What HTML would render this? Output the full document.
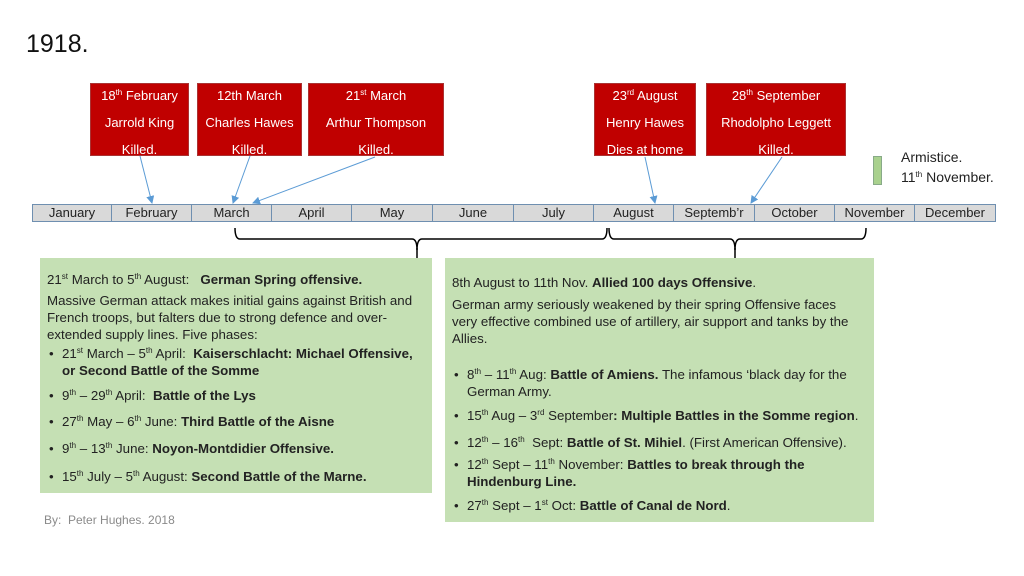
<!DOCTYPE html>
<html><head><meta charset="utf-8"><style>
*{margin:0;padding:0;box-sizing:border-box}
body{width:1024px;height:576px;background:#fff;position:relative;overflow:hidden;font-family:"Liberation Sans",sans-serif;color:#222}
.a{position:absolute;white-space:nowrap}
.red{position:absolute;background:#c00000;border:1px solid #a33;color:#fff;font-size:13px;text-align:center}
.red div{position:absolute;left:0;right:0}
.m{position:absolute;top:204px;height:18px;border:1px solid #6f8fb0;border-left:none;background:#d9d9d9;font-size:13px;text-align:center;line-height:16px;color:#222}
.g{position:absolute;background:#c5e0b4}
.t{position:absolute;font-size:13.3px;white-space:nowrap;color:#222}
sup{font-size:8px;vertical-align:5px;line-height:0}
</style></head><body>
<div class="a" style="left:26px;top:30px;font-size:25px;color:#111">1918.</div>

<div class="red" style="left:90px;top:83px;width:99px;height:73px"><div style="top:4px">18<sup>th</sup> February</div><div style="top:31px">Jarrold King</div><div style="top:58px">Killed.</div></div>
<div class="red" style="left:197px;top:83px;width:105px;height:73px"><div style="top:4px">12th March</div><div style="top:31px">Charles Hawes</div><div style="top:58px">Killed.</div></div>
<div class="red" style="left:308px;top:83px;width:136px;height:73px"><div style="top:4px">21<sup>st</sup> March</div><div style="top:31px">Arthur Thompson</div><div style="top:58px">Killed.</div></div>
<div class="red" style="left:594px;top:83px;width:102px;height:73px"><div style="top:4px">23<sup>rd</sup> August</div><div style="top:31px">Henry Hawes</div><div style="top:58px">Dies at home</div></div>
<div class="red" style="left:706px;top:83px;width:140px;height:73px"><div style="top:4px">28<sup>th</sup> September</div><div style="top:31px">Rhodolpho Leggett</div><div style="top:58px">Killed.</div></div>

<div style="position:absolute;left:873px;top:156px;width:9px;height:29px;background:#a9d18e;border:1px solid #8a8"></div>
<div class="a" style="left:901px;top:149px;font-size:14px">Armistice.</div>
<div class="a" style="left:901px;top:169px;font-size:14px">11<sup>th</sup> November.</div>

<div class="m" style="left:32px;width:80px;border-left:1px solid #6f8fb0">January</div>
<div class="m" style="left:112px;width:80px">February</div>
<div class="m" style="left:192px;width:80px">March</div>
<div class="m" style="left:272px;width:80px">April</div>
<div class="m" style="left:352px;width:81px">May</div>
<div class="m" style="left:433px;width:81px">June</div>
<div class="m" style="left:514px;width:80px">July</div>
<div class="m" style="left:594px;width:80px">August</div>
<div class="m" style="left:674px;width:81px">Septemb’r</div>
<div class="m" style="left:755px;width:80px">October</div>
<div class="m" style="left:835px;width:80px">November</div>
<div class="m" style="left:915px;width:81px">December</div>

<svg style="position:absolute;left:0;top:0" width="1024" height="576">
<defs><marker id="ar" markerWidth="8" markerHeight="8" refX="7" refY="4" orient="auto" markerUnits="userSpaceOnUse"><path d="M0,0 L8,4 L0,8 z" fill="#5b9bd5"/></marker></defs>
<g stroke="#5b9bd5" stroke-width="1" marker-end="url(#ar)">
<line x1="140" y1="156" x2="152" y2="203"/>
<line x1="250" y1="156" x2="233" y2="203"/>
<line x1="375" y1="157" x2="253" y2="203"/>
<line x1="645" y1="157" x2="655" y2="203"/>
<line x1="782" y1="157" x2="751" y2="203"/>
</g>
<g stroke="#000" stroke-width="1.5" fill="none">
<path d="M235,228 Q235,239 240,239 L412,239 Q417,239 417,250 Q417,239 422,239 L602,239 Q607,239 607,228"/>
<line x1="417" y1="248" x2="417" y2="258"/>
<path d="M609,228 Q609,239 614,239 L730,239 Q735,239 735,250 Q735,239 740,239 L861,239 Q866,239 866,228"/>
<line x1="735" y1="248" x2="735" y2="258"/>
</g>
</svg>

<div class="g" style="left:40px;top:258px;width:392px;height:235px"></div>
<div class="g" style="left:445px;top:258px;width:429px;height:264px"></div>

<div class="t" style="left:47px;top:272px">21<sup>st</sup> March to 5<sup>th</sup> August: &nbsp; <b>German Spring offensive.</b></div>
<div class="t" style="left:47px;top:293px">Massive German attack makes initial gains against British and</div>
<div class="t" style="left:47px;top:310px">French troops, but falters due to strong defence and over-</div>
<div class="t" style="left:47px;top:327px">extended supply lines. Five phases:</div>
<div class="t" style="left:49px;top:346px">•</div><div class="t" style="left:62px;top:346px">21<sup>st</sup> March – 5<sup>th</sup> April: &nbsp;<b>Kaiserschlacht: Michael Offensive,</b></div>
<div class="t" style="left:62px;top:363px"><b>or Second Battle of the Somme</b></div>
<div class="t" style="left:49px;top:388px">•</div><div class="t" style="left:62px;top:388px">9<sup>th</sup> – 29<sup>th</sup> April: &nbsp;<b>Battle of the Lys</b></div>
<div class="t" style="left:49px;top:414px">•</div><div class="t" style="left:62px;top:414px">27<sup>th</sup> May – 6<sup>th</sup> June: <b>Third Battle of the Aisne</b></div>
<div class="t" style="left:49px;top:441px">•</div><div class="t" style="left:62px;top:441px">9<sup>th</sup> – 13<sup>th</sup> June: <b>Noyon-Montdidier Offensive.</b></div>
<div class="t" style="left:49px;top:469px">•</div><div class="t" style="left:62px;top:469px">15<sup>th</sup> July – 5<sup>th</sup> August: <b>Second Battle of the Marne.</b></div>

<div class="t" style="left:452px;top:275px">8th August to 11th Nov. <b>Allied 100 days Offensive</b>.</div>
<div class="t" style="left:452px;top:297px">German army seriously weakened by their spring Offensive faces</div>
<div class="t" style="left:452px;top:314px">very effective combined use of artillery, air support and tanks by the</div>
<div class="t" style="left:452px;top:331px">Allies.</div>
<div class="t" style="left:454px;top:367px">•</div><div class="t" style="left:467px;top:367px">8<sup>th</sup> – 11<sup>th</sup> Aug: <b>Battle of Amiens.</b> The infamous ‘black day for the</div>
<div class="t" style="left:467px;top:384px">German Army.</div>
<div class="t" style="left:454px;top:408px">•</div><div class="t" style="left:467px;top:408px">15<sup>th</sup> Aug – 3<sup>rd</sup> September<b>: Multiple Battles in the Somme region</b>.</div>
<div class="t" style="left:454px;top:435px">•</div><div class="t" style="left:467px;top:435px">12<sup>th</sup> – 16<sup>th</sup> &nbsp;Sept: <b>Battle of St. Mihiel</b>. (First American Offensive).</div>
<div class="t" style="left:454px;top:457px">•</div><div class="t" style="left:467px;top:457px">12<sup>th</sup> Sept – 11<sup>th</sup> November: <b>Battles to break through the</b></div>
<div class="t" style="left:467px;top:474px"><b>Hindenburg Line.</b></div>
<div class="t" style="left:454px;top:498px">•</div><div class="t" style="left:467px;top:498px">27<sup>th</sup> Sept – 1<sup>st</sup> Oct: <b>Battle of Canal de Nord</b>.</div>

<div class="a" style="left:44px;top:513px;font-size:12px;color:#8a8a8a">By: &nbsp;Peter Hughes. 2018</div>
</body></html>
